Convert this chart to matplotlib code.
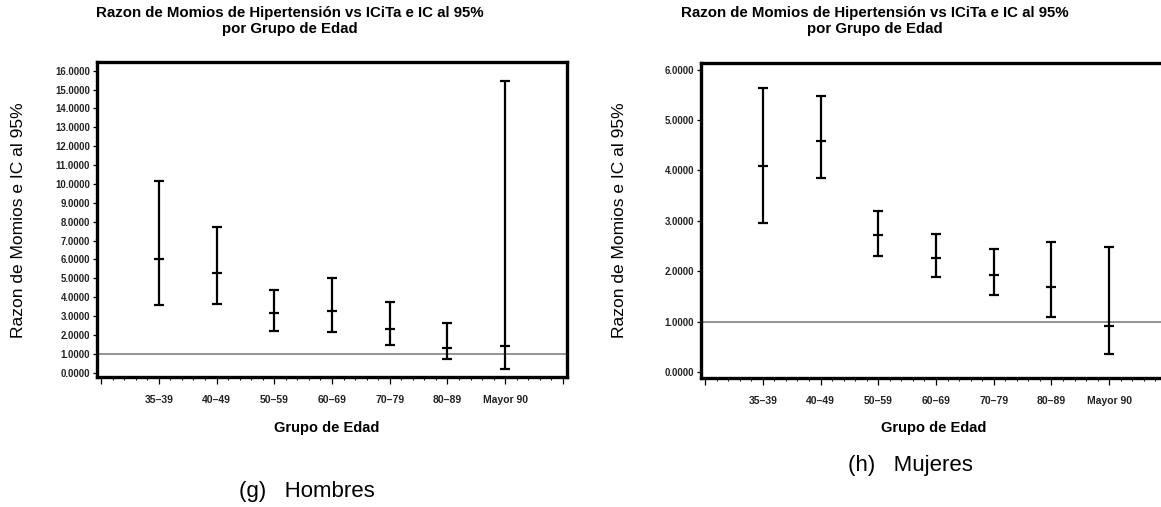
import matplotlib
matplotlib.use("Agg")
import matplotlib.pyplot as plt
from matplotlib.ticker import FixedLocator, MultipleLocator, FormatStrFormatter, NullFormatter

plt.rcParams['font.family'] = ['Liberation Sans', 'DejaVu Sans']

# Age groups and odds ratios with 95% confidence limits
grupos = ['35–39', '40–49', '50–59', '60–69', '70–79', '80–89', 'Mayor 90']

hombres_rm = [6.02, 5.30, 3.15, 3.25, 2.33, 1.31, 1.40]
hombres_inf = [3.57, 3.66, 2.23, 2.16, 1.47, 0.71, 0.20]
hombres_sup = [10.16, 7.72, 4.40, 5.00, 3.75, 2.63, 15.47]

mujeres_rm = [4.09, 4.58, 2.71, 2.27, 1.92, 1.68, 0.92]
mujeres_inf = [2.96, 3.85, 2.31, 1.88, 1.52, 1.10, 0.35]
mujeres_sup = [5.63, 5.47, 3.19, 2.74, 2.43, 2.58, 2.48]

titulo = 'Razon de Momios de Hipertensión vs ICiTa e IC al 95%\npor Grupo de Edad'
etiqueta_y = 'Razon de Momios e IC al 95%'
etiqueta_x = 'Grupo de Edad'

W, H = 1161, 507
fig = plt.figure(figsize=(W / 100, H / 100), dpi=100)


def px(x, y):
    return x / W, 1 - y / H


def panel(rect, rm, inf, sup, ymax, ylim):
    left, top, right, bottom = rect
    ax = fig.add_axes([left / W, 1 - bottom / H, (right - left) / W, (bottom - top) / H])
    pos = list(range(1, len(grupos) + 1))
    err_lo = [r - l for r, l in zip(rm, inf)]
    err_hi = [s - r for r, s in zip(rm, sup)]
    ax.axhline(1.0, color='#8a8a8a', lw=1.3, zorder=1)
    ax.errorbar(pos, rm, yerr=[err_lo, err_hi], fmt='_', color='black',
                ecolor='black', elinewidth=1.6, capsize=3.3, capthick=1.6,
                markersize=6.6, markeredgewidth=1.6, zorder=3)
    ax.set_xlim(-0.07, 8.07)
    ax.set_ylim(*ylim)
    ax.xaxis.set_major_locator(FixedLocator(range(0, 9)))
    ax.set_xticklabels([''] + grupos + [''])
    ax.xaxis.set_minor_locator(MultipleLocator(0.2))
    ax.xaxis.set_minor_formatter(NullFormatter())
    ax.yaxis.set_major_locator(FixedLocator(range(0, ymax + 1)))
    ax.yaxis.set_major_formatter(FormatStrFormatter('%.4f'))
    ax.tick_params(axis='x', which='major', direction='out', length=5, width=0.9,
                   pad=8, labelsize=7.5)
    ax.tick_params(axis='x', which='minor', direction='out', length=2.5, width=0.7)
    ax.tick_params(axis='y', which='major', direction='out', length=3, width=0.9,
                   pad=2, labelsize=6.9)
    for lab in ax.get_xticklabels() + ax.get_yticklabels():
        lab.set_fontweight('bold')
        lab.set_color('#222222')
    for sp in ax.spines.values():
        sp.set_linewidth(2.4)
        sp.set_color('black')
    return ax


ax1 = panel((97, 62, 567, 377), hombres_rm, hombres_inf, hombres_sup, 16, (-0.23, 16.46))
ax2 = panel((701, 63, 1171, 378), mujeres_rm, mujeres_inf, mujeres_sup, 6, (-0.12, 6.13))

# Titles
fig.text(*px(290, 21), titulo, ha='center', va='center', fontsize=10.8,
         fontweight='bold', linespacing=1.15)
fig.text(*px(875, 21), titulo, ha='center', va='center', fontsize=10.8,
         fontweight='bold', linespacing=1.15)

# Axis titles
fig.text(*px(19, 220), etiqueta_y, rotation=90, ha='center', va='center', fontsize=12.5)
fig.text(*px(620, 220), etiqueta_y, rotation=90, ha='center', va='center', fontsize=12.5)
fig.text(*px(327, 428), etiqueta_x, ha='center', va='center', fontsize=10.5, fontweight='bold')
fig.text(*px(934, 428), etiqueta_x, ha='center', va='center', fontsize=10.5, fontweight='bold')

# Sub-figure captions
fig.text(*px(307, 492), '(g)   Hombres', ha='center', va='center', fontsize=16)
fig.text(*px(910, 466), '(h)   Mujeres', ha='center', va='center', fontsize=16)

fig.savefig('out.png', dpi=100, facecolor='white')
